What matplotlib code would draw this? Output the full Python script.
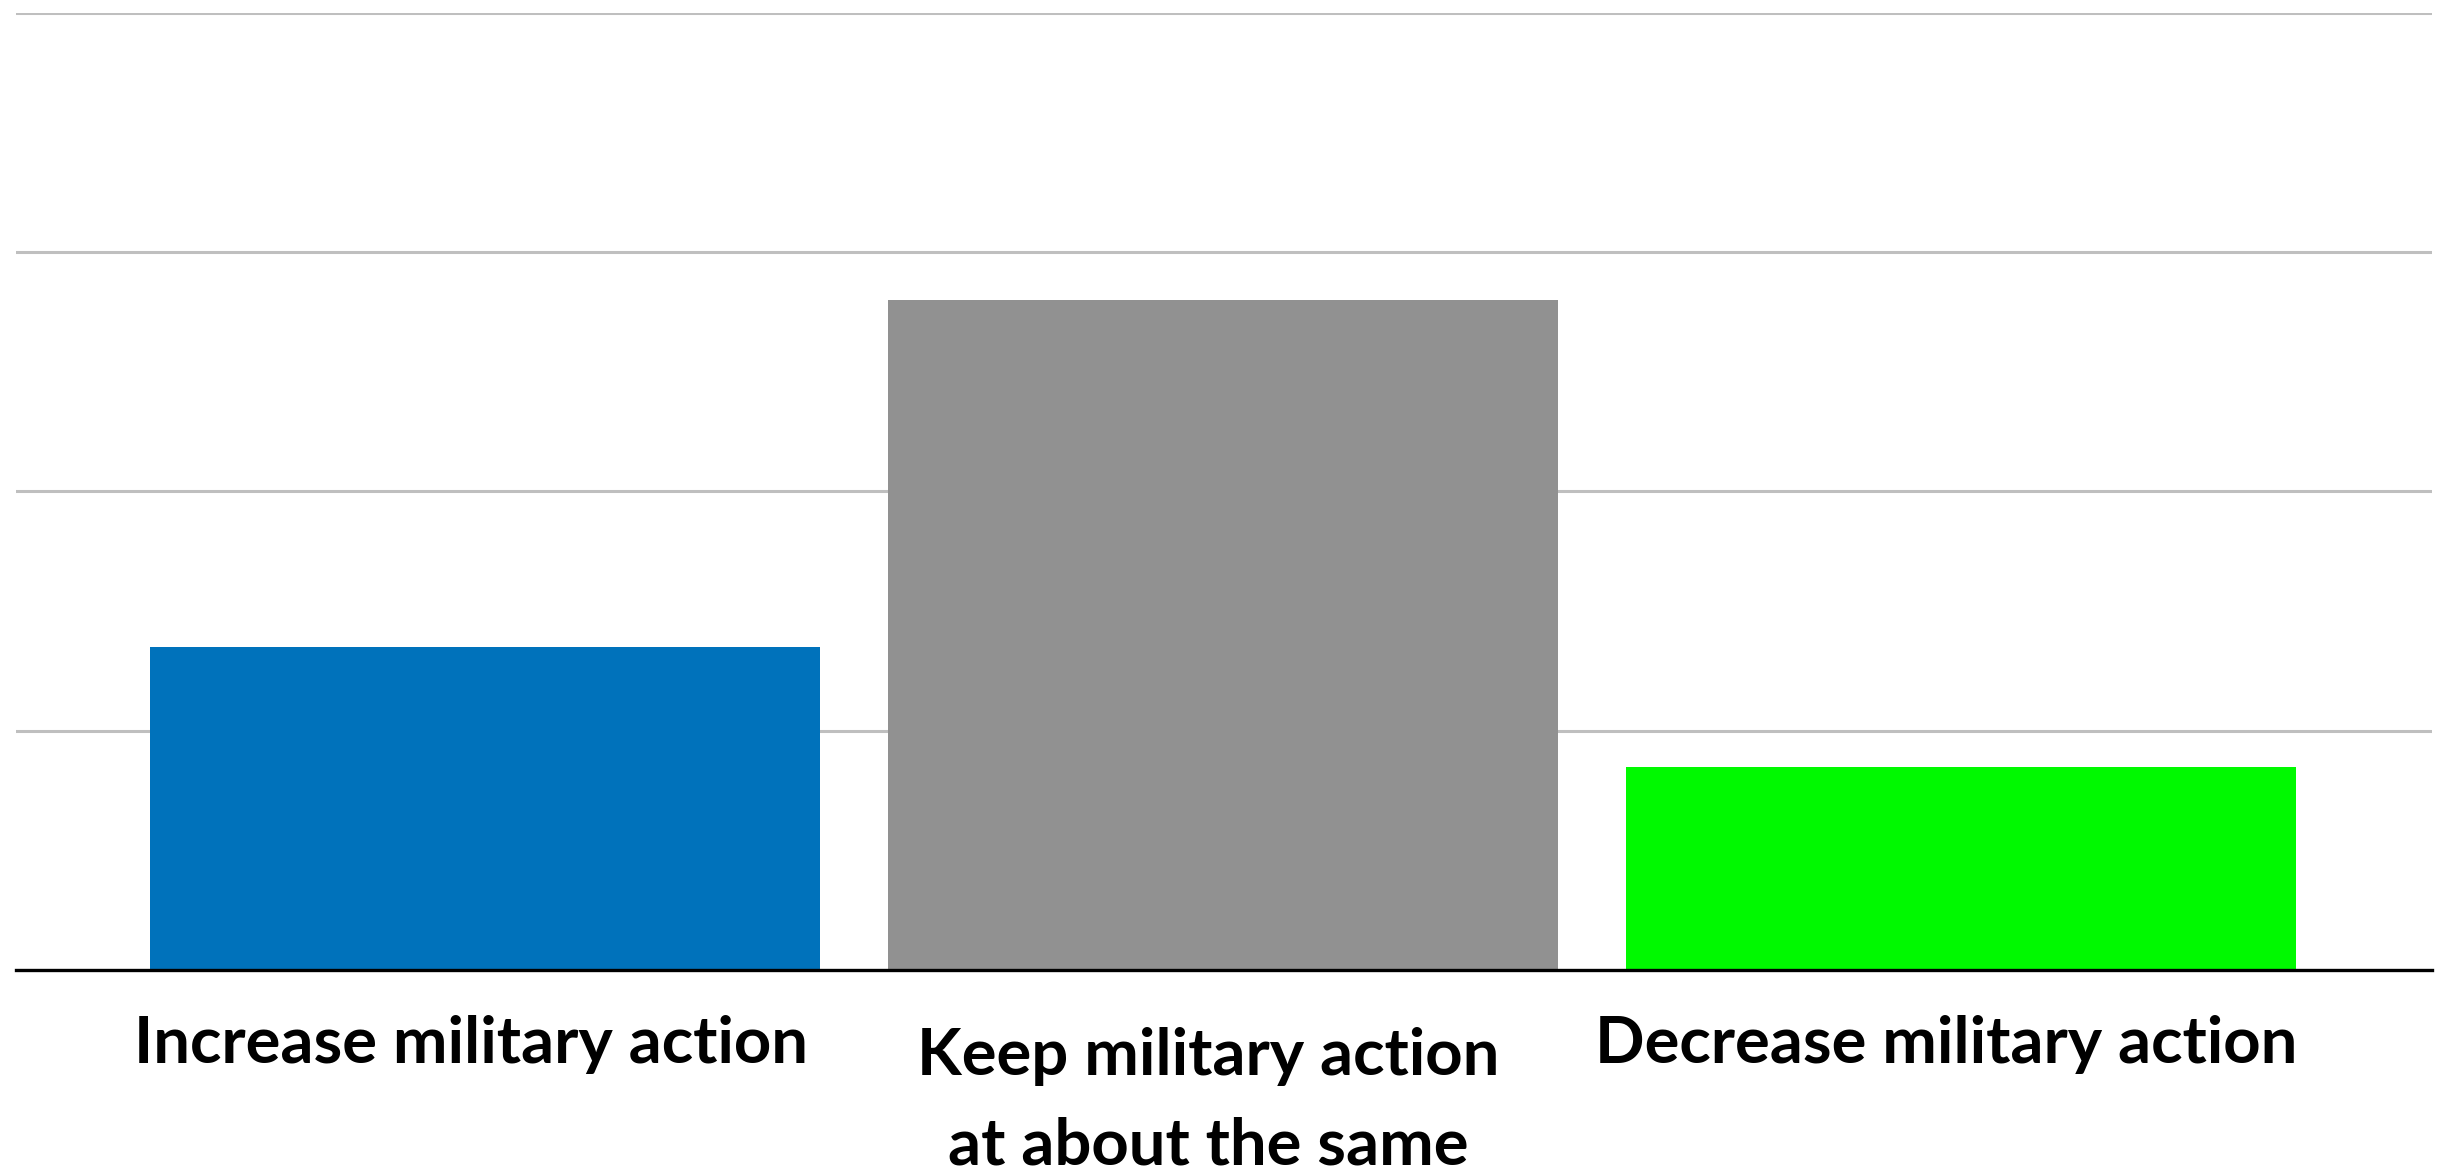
import matplotlib.pyplot as plt

categories = ["Increase military action",
              "Keep military action\nat about the same",
              "Decrease military action"]
values = [27, 56, 17]
colors = ["#0072bb", "#919191", "#00f900"]
yticks = [0, 20, 40, 60, 80]

plt.rcParams['font.family'] = ['Lato', 'DejaVu Sans']

fig = plt.figure(figsize=(24.49, 11.72), dpi=100)
ax = fig.add_axes([16 / 2449, 202 / 1172, 2416 / 2449, 957.5 / 1172])

x = list(range(len(values)))
ax.bar(x, values, width=0.908, color=colors, zorder=2)

ax.set_xlim(-0.636, 2.638)
ax.set_ylim(0, 80)
ax.set_yticks(yticks)
ax.yaxis.grid(True, color="#bfbfbf", linewidth=2.2, zorder=0)
ax.tick_params(left=False, bottom=False, labelleft=False, labelbottom=False)
for side in ["top", "right", "left"]:
    ax.spines[side].set_visible(False)
ax.spines["bottom"].set_color("black")
ax.spines["bottom"].set_linewidth(2.4)
ax.spines["bottom"].set_zorder(3)

trans = ax.get_xaxis_transform()
for i, label in enumerate(categories):
    n_lines = label.count("\n") + 1
    y = -0.047 if n_lines == 1 else -0.060
    ax.text(i - 0.02, y, label, transform=trans, ha="center", va="top",
            fontsize=47, fontweight="bold", linespacing=1.62)

fig.savefig("out.png", dpi=100)
